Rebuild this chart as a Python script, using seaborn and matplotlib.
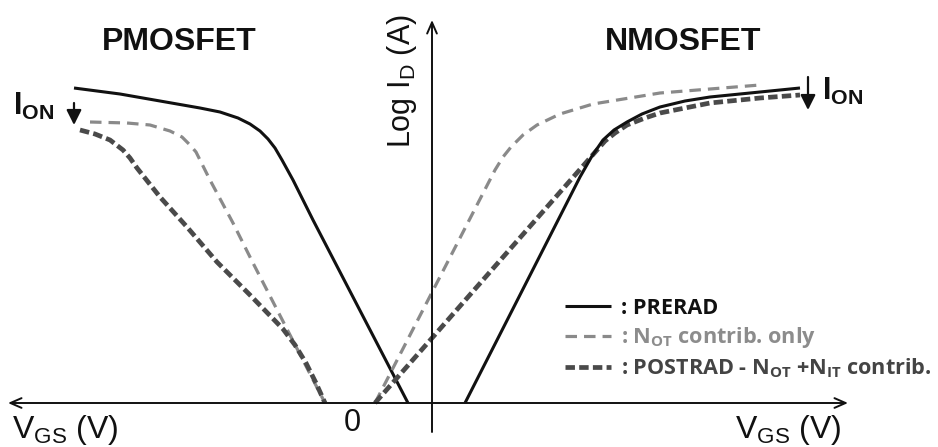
import numpy as np
import pandas as pd
import matplotlib
matplotlib.use("Agg")
import matplotlib.pyplot as plt
import seaborn as sns

# ---- data (schematic units: VGS offset from the Log ID axis, Log ID above the VGS axis) ----
p_prerad_vgs = [-358, -312, -272, -232, -212, -194, -182, -172, -164, -157, -150, -139, -119, -24]
p_prerad_log = [315, 309, 302, 295, 291, 285, 279, 272, 264, 255, 243, 223, 183, 0]

p_not_vgs = [-342, -305, -282, -262, -250, -242, -236, -232, -222, -199, -179, -107]
p_not_log = [281, 280, 278, 272, 266, 258, 251, 243, 223, 180, 140, 0]

p_post_vgs = [-352, -337, -322, -309, -302, -295, -272, -245, -215, -182, -149, -137, -126, -116, -107]
p_post_log = [273, 269, 263, 253, 245, 235, 206, 176, 141, 108, 74, 58, 40, 20, 0]

n_prerad_vgs = [33, 148, 160, 171, 182, 195, 210, 228, 253, 278, 328, 368]
n_prerad_log = [0, 226, 247, 263, 273, 281, 289, 296, 302, 306, 311, 315]

n_not_vgs = [-57, 63, 71, 79, 91, 105, 128, 161, 228, 328]
n_not_log = [0, 233, 246, 256, 268, 278, 289, 299, 310, 318]

n_post_vgs = [-57, 165, 173, 183, 195, 213, 228, 278, 328, 368]
n_post_log = [0, 253, 262, 270, 278, 285, 290, 300, 305, 308]

legend_labels = [": PRERAD",
                 r": $\mathregular{N_{OT}}$ contrib. only",
                 r": POSTRAD - $\mathregular{N_{OT}}$ +$\mathregular{N_{IT}}$ contrib."]

# ---- style ----
sns.set_style("white")
plt.rcParams["font.family"] = ["Liberation Sans", "DejaVu Sans"]

BLACK = "#111111"
GRAY = "#8a8a8a"
DARK = "#4a4a4a"

fig = plt.figure(figsize=(9.38, 4.47), dpi=100)
ax = fig.add_axes([0, 0, 1, 1])
ax.set_xlim(-432, 506)
ax.set_ylim(-44, 403)
ax.axis("off")

solid_kw = dict(color=BLACK, lw=2.2, linestyle="-", solid_capstyle="butt")
not_kw = dict(color=GRAY, lw=2.3, linestyle=(0, (3.6, 2.2)))
post_kw = dict(color=DARK, lw=3.4, linestyle=(0, (2.0, 0.9)))

def curve(x, y, **kw):
    df = pd.DataFrame({"VGS": x, "LogID": y})
    sns.lineplot(data=df, x="VGS", y="LogID", sort=False, estimator=None,
                 ax=ax, legend=False, **kw)
    return ax.get_lines()[-1]

h1 = curve(p_prerad_vgs, p_prerad_log, **solid_kw)
h2 = curve(p_not_vgs, p_not_log, **not_kw)
h3 = curve(p_post_vgs, p_post_log, **post_kw)
curve(n_not_vgs, n_not_log, **not_kw)
curve(n_post_vgs, n_post_log, **post_kw)
curve(n_prerad_vgs, n_prerad_log, **solid_kw)

# ---- axes with arrows ----
ax.annotate("", xy=(-424, 0), xytext=(416, 0),
            arrowprops=dict(arrowstyle="<->,head_length=0.8,head_width=0.35",
                            color=BLACK, lw=1.4, shrinkA=0, shrinkB=0))
ax.annotate("", xy=(0, 383), xytext=(0, -29),
            arrowprops=dict(arrowstyle="->,head_length=0.8,head_width=0.35",
                            color=BLACK, lw=1.4, shrinkA=0, shrinkB=0))

# ---- texts ----
ax.text(-253, 361, "PMOSFET", fontsize=23, fontweight="bold", ha="center", va="center", color=BLACK)
ax.text(251, 361, "NMOSFET", fontsize=23, fontweight="bold", ha="center", va="center", color=BLACK)
ax.text(-30, 322, r"Log $\mathregular{I_D}$ (A)", fontsize=22, rotation=90,
        ha="center", va="center", color=BLACK)
ax.text(-80, -20, "0", fontsize=22, ha="center", va="center", color=BLACK)
ax.text(-420, -35, r"$\mathregular{V_{GS}}$ (V)", fontsize=23, ha="left", va="baseline", color=BLACK)
ax.text(303, -35, r"$\mathregular{V_{GS}}$ (V)", fontsize=23, ha="left", va="baseline", color=BLACK)

ax.text(-419, 288, r"$\mathregular{I_{ON}}$", fontsize=22, fontweight="bold", ha="left", va="baseline", color=BLACK)
ax.text(390, 303, r"$\mathregular{I_{ON}}$", fontsize=22, fontweight="bold", ha="left", va="baseline", color=BLACK)
arrow_kw = dict(arrowstyle="-|>,head_length=0.9,head_width=0.45", color=BLACK, lw=1.6,
                shrinkA=0, shrinkB=0)
ax.annotate("", xy=(-358, 278), xytext=(-358, 300), arrowprops=arrow_kw)
ax.annotate("", xy=(376, 293), xytext=(376, 326), arrowprops=arrow_kw)

# ---- legend ----
leg = ax.legend([h1, h2, h3], legend_labels, loc="upper left",
                bbox_to_anchor=(0.602, 0.334), borderaxespad=0, borderpad=0,
                frameon=False, handlelength=2.15, handletextpad=0.45,
                labelspacing=0.3,
                labelcolor=[BLACK, "#8c8c8c", "#444444"],
                prop={"family": ["Open Sans", "DejaVu Sans"], "weight": "bold", "size": 15.6})

fig.savefig("out.png", dpi=100, facecolor="white")
